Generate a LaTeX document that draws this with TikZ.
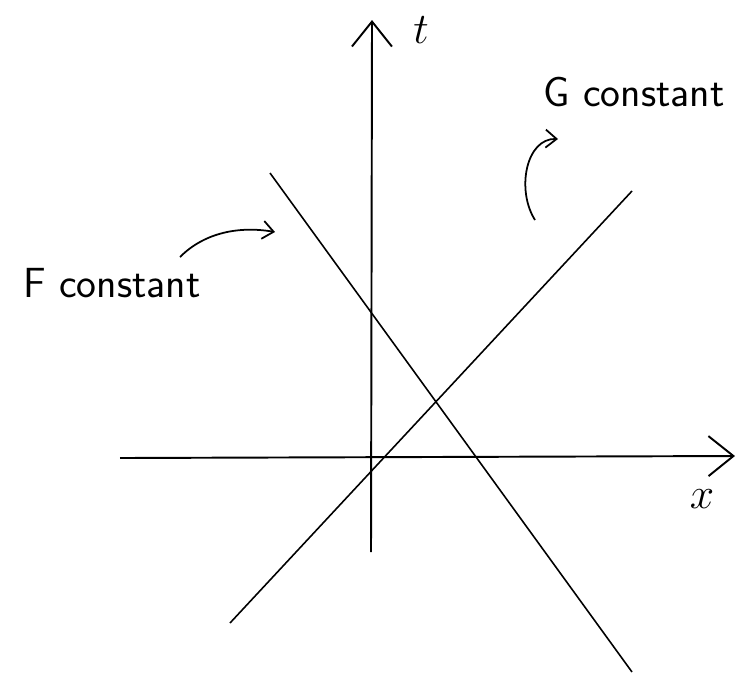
\documentclass[tikz,border=0pt]{standalone}
\usepackage{amsmath}
\usetikzlibrary{arrows.meta}

\begin{document}
\begin{tikzpicture}[x=0.02cm, y=-0.02cm,
  axis/.style={line width=1.1pt,
               -{Straight Barb[length=0.5cm, width=0.8cm, line width=1.1pt]}},
  level/.style={line width=0.9pt},
  note/.style={font=\sffamily\fontsize{24}{28}\selectfont, inner sep=0pt},
  pointer/.style={line width=1pt,
                  -{Straight Barb[length=0.22cm, width=0.36cm, line width=1pt]}},
]
\useasboundingbox (0,0) rectangle (739,677);

% axes
\coordinate (tlo) at (371,552);
\coordinate (thi) at (372,20);
\coordinate (xlo) at (120,458);
\coordinate (xhi) at (735,456);
\draw[axis] (tlo) -- (thi);
\draw[axis] (xlo) -- (xhi);
\node[note] (tlab) at (421,30) {$t$};
\node[note] (xlab) at (702,499) {$x$};

% level lines
\coordinate (fa) at (270,173);
\coordinate (fb) at (632,672);
\coordinate (ga) at (230,623);
\coordinate (gb) at (632,191);
\draw[level] (fa) -- (fb);
\draw[level] (ga) -- (gb);

% labels
\node[note] (flab) at (112,283) {F constant};
\node[note] (glab) at (634,92)  {G constant};
\coordinate (fstart) at (180,257);
\coordinate (fend)   at (275,232);
\coordinate (gstart) at (535,220);
\coordinate (gend)   at (558,139);
\draw[pointer] (fstart) .. controls (205,232) and (240,226) .. (fend);
\draw[pointer] (gstart) .. controls (516,190) and (526,138) .. (gend);
\end{tikzpicture}
\end{document}
